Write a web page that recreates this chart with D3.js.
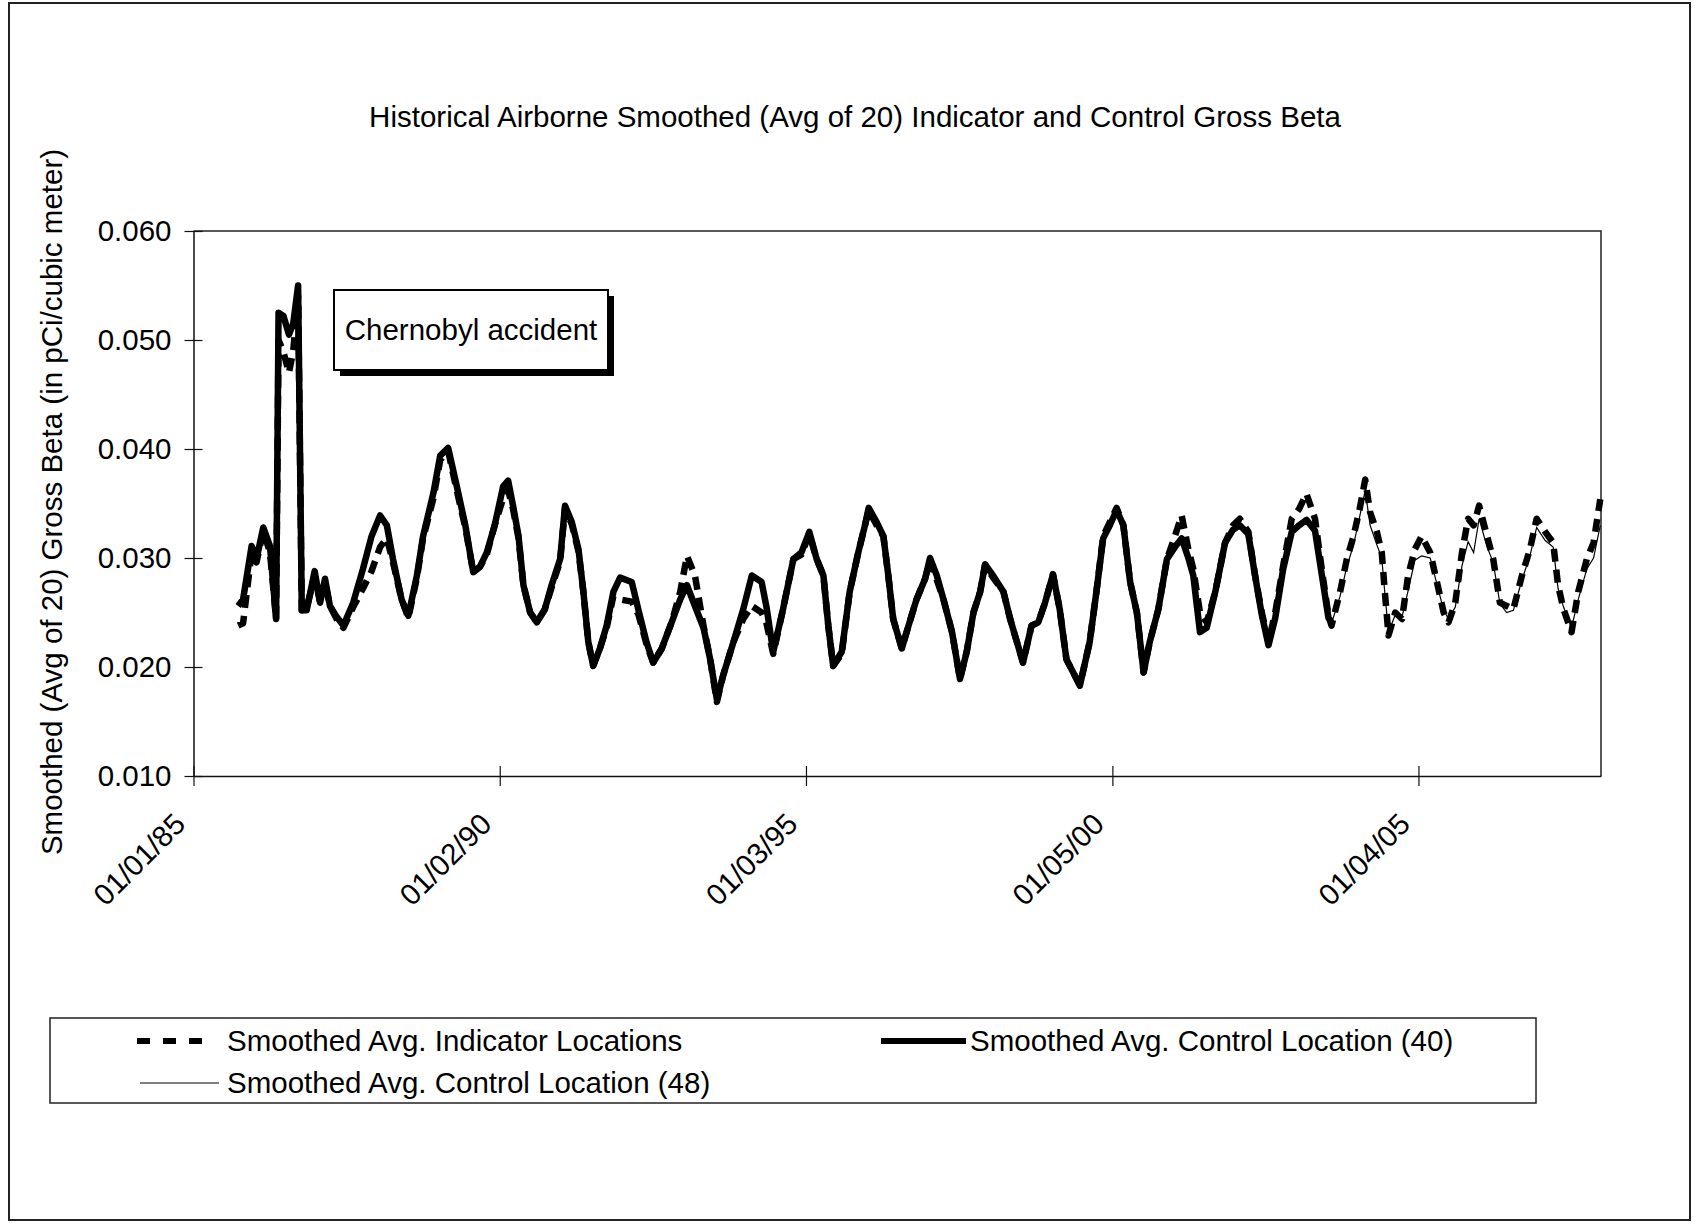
<!DOCTYPE html>
<html>
<head>
<meta charset="utf-8">
<script src="https://cdn.jsdelivr.net/npm/d3@7"></script>
<style>
  body { margin: 0; background: #fff; }
  text { font-family: "Liberation Sans", Arial, sans-serif; fill: #000; }
</style>
</head>
<body>
<div id="chart"></div>
<script>
// decimal years of the smoothed points
const years = [
  1985.73, 1985.81, 1985.95, 1986.03, 1986.14, 1986.25, 1986.35, 1986.39, 1986.47, 1986.56,
  1986.63, 1986.71, 1986.77, 1986.85, 1986.98, 1987.07, 1987.15, 1987.23, 1987.34, 1987.45,
  1987.61, 1987.77, 1987.91, 1988.05, 1988.16, 1988.26, 1988.40, 1988.51, 1988.65, 1988.75,
  1988.92, 1989.03, 1989.16, 1989.30, 1989.44, 1989.57, 1989.68, 1989.79, 1989.92, 1990.06,
  1990.14, 1990.22, 1990.31, 1990.39, 1990.50, 1990.61, 1990.74, 1990.85, 1990.99, 1991.07,
  1991.18, 1991.29, 1991.37, 1991.45, 1991.53, 1991.64, 1991.75, 1991.86, 1991.97, 1992.16,
  1992.27, 1992.40, 1992.51, 1992.65, 1992.81, 1992.95, 1993.06, 1993.19, 1993.33, 1993.44,
  1993.55, 1993.65, 1993.82, 1993.98, 1994.12, 1994.28, 1994.36, 1994.47, 1994.63, 1994.80,
  1994.93, 1995.06, 1995.18, 1995.29, 1995.37, 1995.45, 1995.59, 1995.72, 1995.86, 1995.97,
  1996.03, 1996.16, 1996.27, 1996.35, 1996.43, 1996.57, 1996.68, 1996.81, 1996.95, 1997.03,
  1997.14, 1997.25, 1997.39, 1997.52, 1997.63, 1997.74, 1997.85, 1997.93, 1998.06, 1998.23,
  1998.34, 1998.45, 1998.55, 1998.69, 1998.80, 1998.91, 1999.04, 1999.15, 1999.26, 1999.48,
  1999.64, 1999.75, 1999.86, 1999.97, 2000.08, 2000.19, 2000.30, 2000.41, 2000.52, 2000.62,
  2000.76, 2000.90, 2001.03, 2001.14, 2001.25, 2001.33, 2001.44, 2001.55, 2001.69, 2001.85,
  2001.98, 2002.09, 2002.23, 2002.34, 2002.45, 2002.56, 2002.67, 2002.80, 2002.94, 2003.06,
  2003.18, 2003.32, 2003.43, 2003.54, 2003.59, 2003.73, 2003.84, 2003.95, 2004.05, 2004.14,
  2004.22, 2004.33, 2004.41, 2004.46, 2004.52, 2004.63, 2004.74, 2004.84, 2004.95, 2005.06,
  2005.20, 2005.31, 2005.42, 2005.50, 2005.61, 2005.72, 2005.82, 2005.91, 2006.00, 2006.13,
  2006.23, 2006.34, 2006.45, 2006.56, 2006.70, 2006.83, 2006.94, 2007.08, 2007.21, 2007.29,
  2007.38, 2007.51, 2007.62, 2007.76, 2007.87, 2007.98
];

const indicator = [
  .0238, .0240, .0305, .0296, .0325, .0305, .0244, .0500, .0489, .0470,
  .0490, .0540, .0252, .0254, .0284, .0259, .0278, .0256, .0244, .0236,
  .0255, .0272, .0288, .0310, .0318, .0296, .0262, .0245, .0282, .0318,
  .0355, .0390, .0398, .0362, .0328, .0287, .0292, .0303, .0330, .0355,
  .0362, .0345, .0318, .0275, .0250, .0241, .0253, .0273, .0297, .0346,
  .0331, .0306, .0269, .0223, .0201, .0217, .0236, .0265, .0262, .0260,
  .0248, .0221, .0204, .0217, .0241, .0269, .0302, .0284, .0238, .0207,
  .0168, .0192, .0223, .0244, .0256, .0250, .0240, .0212, .0253, .0299,
  .0303, .0322, .0299, .0284, .0238, .0201, .0212, .0269, .0305, .0330,
  .0344, .0330, .0320, .0284, .0244, .0217, .0238, .0262, .0281, .0298,
  .0280, .0262, .0232, .0189, .0214, .0250, .0269, .0294, .0282, .0269,
  .0244, .0223, .0204, .0238, .0241, .0259, .0285, .0253, .0207, .0183,
  .0223, .0269, .0320, .0333, .0346, .0330, .0278, .0250, .0195, .0223,
  .0253, .0299, .0320, .0339, .0308, .0290, .0250, .0241, .0269, .0314,
  .0330, .0336, .0324, .0284, .0250, .0223, .0250, .0293, .0336, .0345,
  .0359, .0336, .0290, .0247, .0238, .0269, .0299, .0320, .0345, .0372,
  .0342, .0324, .0305, .0269, .0229, .0250, .0244, .0284, .0308, .0320,
  .0305, .0278, .0250, .0241, .0259, .0305, .0336, .0330, .0348, .0320,
  .0299, .0259, .0256, .0253, .0284, .0308, .0336, .0324, .0314, .0275,
  .0253, .0232, .0269, .0299, .0314, .0354
];

// control location 40 stops reporting in 2003
const control40 = [
  .0256, .0262, .0311, .0299, .0328, .0311, .0244, .0525, .0522, .0505,
  .0515, .0550, .0252, .0252, .0288, .0259, .0281, .0256, .0246, .0238,
  .0259, .0290, .0320, .0339, .0330, .0299, .0262, .0247, .0284, .0320,
  .0360, .0394, .0401, .0366, .0330, .0287, .0292, .0305, .0330, .0366,
  .0371, .0348, .0320, .0275, .0250, .0241, .0253, .0275, .0299, .0348,
  .0333, .0308, .0269, .0223, .0201, .0217, .0238, .0269, .0282, .0278,
  .0252, .0223, .0204, .0217, .0241, .0262, .0275, .0256, .0236, .0207,
  .0170, .0192, .0223, .0253, .0284, .0278, .0255, .0214, .0253, .0299,
  .0305, .0324, .0299, .0284, .0238, .0201, .0214, .0269, .0305, .0330,
  .0346, .0333, .0320, .0284, .0244, .0217, .0238, .0262, .0281, .0300,
  .0284, .0262, .0232, .0189, .0214, .0250, .0269, .0294, .0284, .0269,
  .0244, .0223, .0204, .0238, .0241, .0259, .0285, .0253, .0207, .0183,
  .0223, .0269, .0318, .0330, .0344, .0330, .0278, .0250, .0195, .0223,
  .0253, .0299, .0310, .0318, .0300, .0284, .0232, .0236, .0269, .0314,
  .0326, .0330, .0322, .0284, .0248, .0220, .0245, .0290, .0324, .0330,
  .0335, .0325, .0285, .0245, .0241, null, null, null, null, null,
  null, null, null, null, null, null, null, null, null, null,
  null, null, null, null, null, null, null, null, null, null,
  null, null, null, null, null, null, null, null, null, null,
  null, null, null, null, null, null
];

const control48 = [
  .0256, .0262, .0310, .0299, .0327, .0311, .0244, .0524, .0521, .0504,
  .0514, .0549, .0252, .0252, .0287, .0259, .0280, .0256, .0246, .0238,
  .0258, .0289, .0319, .0338, .0330, .0299, .0262, .0247, .0284, .0320,
  .0359, .0393, .0400, .0366, .0330, .0287, .0292, .0305, .0330, .0365,
  .0370, .0348, .0320, .0275, .0250, .0241, .0253, .0275, .0299, .0347,
  .0333, .0308, .0269, .0223, .0201, .0217, .0238, .0268, .0281, .0277,
  .0252, .0223, .0204, .0217, .0241, .0262, .0276, .0257, .0236, .0207,
  .0170, .0192, .0223, .0252, .0283, .0277, .0254, .0214, .0253, .0299,
  .0305, .0323, .0299, .0284, .0238, .0201, .0214, .0269, .0305, .0330,
  .0345, .0332, .0320, .0284, .0244, .0217, .0238, .0262, .0281, .0300,
  .0283, .0262, .0232, .0189, .0214, .0250, .0269, .0294, .0284, .0269,
  .0244, .0223, .0204, .0238, .0241, .0259, .0285, .0253, .0207, .0183,
  .0223, .0269, .0318, .0330, .0343, .0330, .0278, .0250, .0195, .0223,
  .0253, .0299, .0310, .0317, .0300, .0284, .0233, .0236, .0269, .0313,
  .0325, .0329, .0321, .0284, .0247, .0220, .0245, .0289, .0322, .0329,
  .0333, .0323, .0284, .0245, .0240, .0265, .0292, .0312, .0338, .0362,
  .0330, .0312, .0300, .0268, .0232, .0248, .0246, .0270, .0298, .0302,
  .0300, .0276, .0252, .0244, .0255, .0293, .0315, .0305, .0336, .0310,
  .0296, .0258, .0250, .0252, .0280, .0302, .0328, .0316, .0310, .0272,
  .0255, .0236, .0262, .0290, .0300, .0330
];

const tickDates = [[1985, 0, 1], [1990, 0, 2], [1995, 0, 3], [2000, 0, 5], [2005, 0, 4]];
const yTicks = [0.010, 0.020, 0.030, 0.040, 0.050, 0.060];
const seriesNames = [
  "Smoothed Avg. Indicator Locations",
  "Smoothed Avg. Control Location (40)",
  "Smoothed Avg. Control Location (48)"
];

const width = 1704, height = 1225;
const plot = { left: 193.5, right: 1601, top: 231, bottom: 776 };
const font = 29.5;

function toDate(yr) {
    const y = Math.floor(yr);
    const a = new Date(y, 0, 1), b = new Date(y + 1, 0, 1);
    return new Date(+a + (yr - y) * (b - a));
}

const rows = years.map((yr, i) => ({
    date: toDate(yr), ind: indicator[i], c40: control40[i], c48: control48[i]
}));

const svg = d3.select("#chart")
    .append("svg")
    .attr("width", width)
    .attr("height", height);

// page frame
svg.append("rect")
    .attr("x", 9).attr("y", 3)
    .attr("width", 1681).attr("height", 1217)
    .attr("fill", "none").attr("stroke", "#222").attr("stroke-width", 2);

const xScale = d3.scaleTime()
    .domain([new Date(1985, 0, 1), new Date(2007, 11, 29)])
    .range([plot.left, plot.right]);

const yScale = d3.scaleLinear()
    .domain([0.010, 0.060])
    .range([plot.bottom, plot.top]);

// plot area border (top and right)
svg.append("path")
    .attr("d", `M${plot.left},${plot.top}H${plot.right}V${plot.bottom}`)
    .attr("fill", "none").attr("stroke", "#222").attr("stroke-width", 1.5);

// Y axis
const yAxis = svg.append("g")
    .attr("transform", `translate(${plot.left},0)`)
    .call(d3.axisLeft(yScale).tickValues(yTicks).tickFormat(d3.format(".3f")).tickSizeOuter(0));
yAxis.select(".domain").attr("stroke", "#111").attr("stroke-width", 1.5);
yAxis.selectAll(".tick line").attr("x1", -9).attr("x2", 9).attr("stroke", "#111").attr("stroke-width", 1.2);
yAxis.selectAll(".tick text")
    .attr("x", -22)
    .style("font-family", "'Liberation Sans', Arial, sans-serif")
    .style("font-size", font + "px");

// X axis
const xAxis = svg.append("g")
    .attr("transform", `translate(0,${plot.bottom})`)
    .call(d3.axisBottom(xScale)
        .tickValues(tickDates.map(d => new Date(d[0], d[1], d[2])))
        .tickFormat(d3.timeFormat("%m/%d/%y"))
        .tickSizeOuter(0));
xAxis.select(".domain").attr("stroke", "#111").attr("stroke-width", 1.5);
xAxis.selectAll(".tick line").attr("y1", -10).attr("y2", 10).attr("stroke", "#111").attr("stroke-width", 1.2);
xAxis.selectAll(".tick text")
    .attr("x", 0).attr("y", 0).attr("dy", 0)
    .attr("transform", "translate(-7,50) rotate(-45)")
    .style("text-anchor", "end")
    .style("font-family", "'Liberation Sans', Arial, sans-serif")
    .style("font-size", font + "px");

// Series lines
const lineFor = key => d3.line()
    .defined(d => d[key] != null)
    .x(d => xScale(d.date))
    .y(d => yScale(d[key]));

svg.append("path")
    .datum(rows)
    .attr("d", lineFor("ind"))
    .attr("fill", "none").attr("stroke", "#000")
    .attr("stroke-width", 6.5).attr("stroke-dasharray", "13,8")
    .attr("stroke-linejoin", "round");

svg.append("path")
    .datum(rows)
    .attr("d", lineFor("c40"))
    .attr("fill", "none").attr("stroke", "#000")
    .attr("stroke-width", 6.5).attr("stroke-linejoin", "round");

svg.append("path")
    .datum(rows)
    .attr("d", lineFor("c48"))
    .attr("fill", "none").attr("stroke", "#000")
    .attr("stroke-width", 1.2);

// Chernobyl annotation
const note = svg.append("g");
note.append("rect")
    .attr("x", 340).attr("y", 296).attr("width", 274).attr("height", 80)
    .attr("fill", "#000");
note.append("rect")
    .attr("x", 334).attr("y", 290).attr("width", 274).attr("height", 80)
    .attr("fill", "#fff").attr("stroke", "#000").attr("stroke-width", 2);
note.append("text")
    .attr("x", 471).attr("y", 340)
    .style("font-size", font + "px")
    .style("text-anchor", "middle")
    .text("Chernobyl accident");

// Title
svg.append("text")
    .attr("x", 855).attr("y", 127)
    .style("font-size", font + "px")
    .style("text-anchor", "middle")
    .text("Historical Airborne Smoothed (Avg of 20) Indicator and Control Gross Beta");

// Y axis title
svg.append("text")
    .attr("transform", "translate(62,502) rotate(-90)")
    .style("font-size", font + "px")
    .style("text-anchor", "middle")
    .text("Smoothed (Avg of 20) Gross Beta (in pCi/cubic meter)");

// Legend
const legend = svg.append("g");
legend.append("rect")
    .attr("x", 50).attr("y", 1018).attr("width", 1486).attr("height", 85)
    .attr("fill", "#fff").attr("stroke", "#222").attr("stroke-width", 1.5);

const legendItems = [
    { x1: 137, x2: 214, tx: 227, y: 1041, w: 6, dash: "13,13" },
    { x1: 881, x2: 966, tx: 970, y: 1041, w: 6, dash: null },
    { x1: 140, x2: 219, tx: 227, y: 1083, w: 1.2, dash: null }
];

const legendRow = legend.selectAll(".legend-item")
    .data(legendItems)
    .enter()
    .append("g")
    .attr("class", "legend-item");

legendRow.append("line")
    .attr("x1", d => d.x1).attr("x2", d => d.x2)
    .attr("y1", d => d.y).attr("y2", d => d.y)
    .attr("stroke", "#000")
    .attr("stroke-width", d => d.w)
    .attr("stroke-dasharray", d => d.dash);

legendRow.append("text")
    .attr("x", d => d.tx)
    .attr("y", d => d.y + 10)
    .style("font-size", font + "px")
    .text((d, i) => seriesNames[i]);
</script>
</body>
</html>
